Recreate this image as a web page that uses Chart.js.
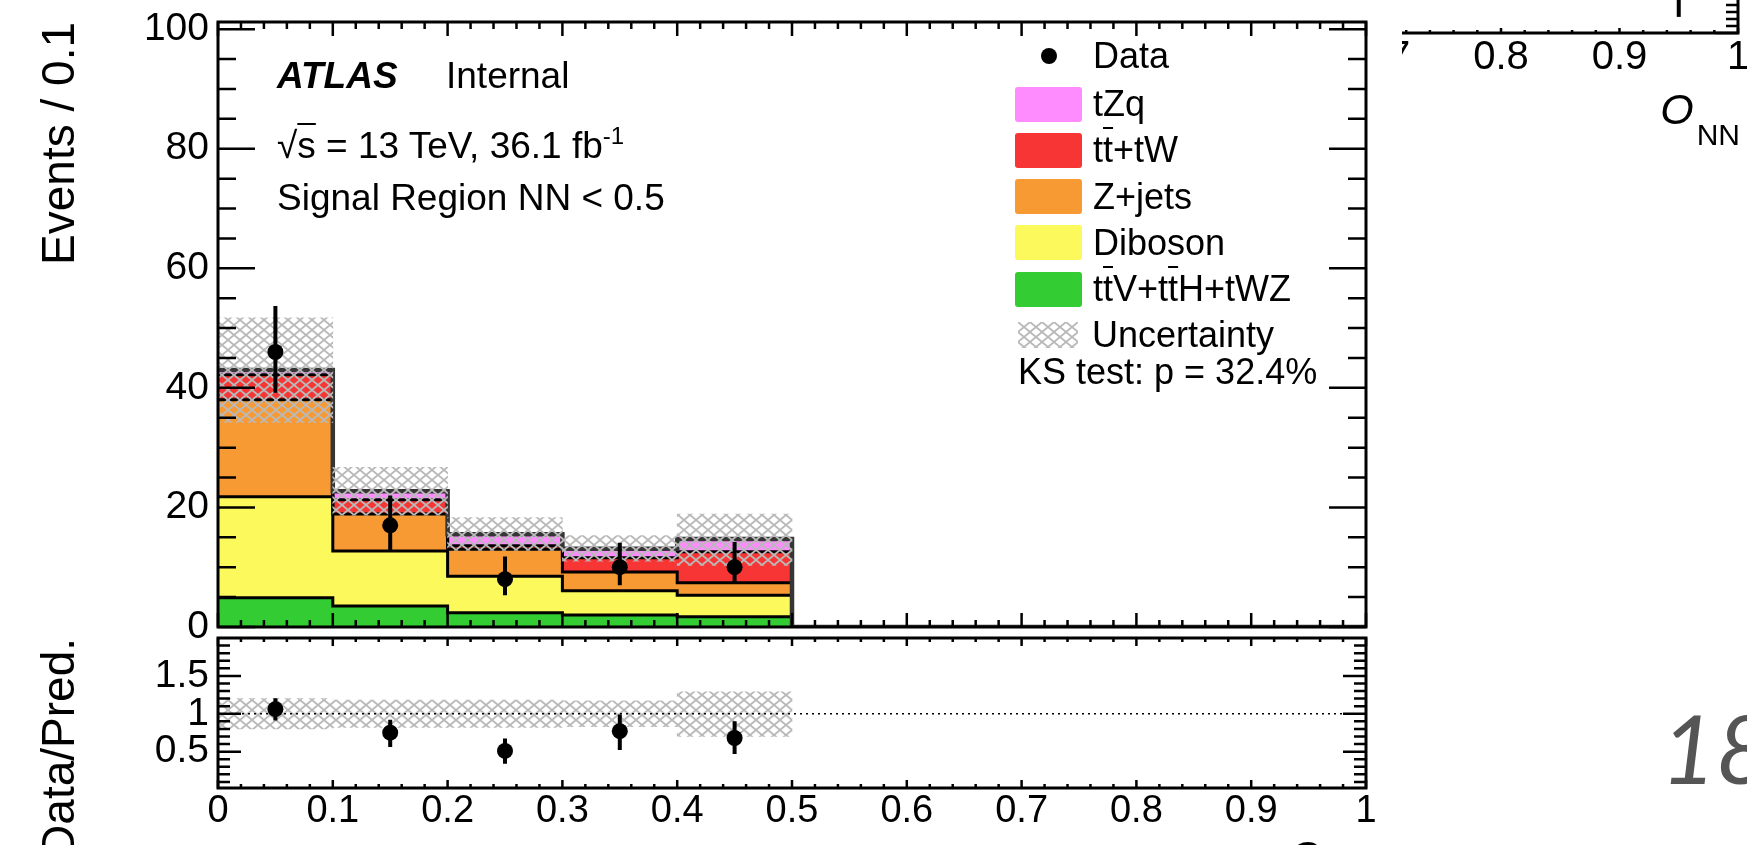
<!DOCTYPE html>
<html lang="en">
<head>
<meta charset="UTF-8" />
<title>Signal Region NN &lt; 0.5</title>
<script src="https://cdn.jsdelivr.net/npm/chart.js"></script>
<style>
  html, body { margin:0; padding:0; background:#fff; }
  body { width:1747px; height:845px; position:relative; overflow:hidden;
         font-family:"Liberation Sans", Arial, Helvetica, sans-serif; color:#000; }
  canvas { position:absolute; }
  #frag { left:1240px; top:-250px; z-index:1; }
  #main { left:0; top:0; z-index:2; background:#fff; }
  #ratio { left:0; top:630px; z-index:3; }
  .txt { position:absolute; white-space:nowrap; font-size:37px; line-height:37px; z-index:5; }
  .ob { text-decoration:overline; text-decoration-thickness:2px; }
  .leg { position:absolute; left:1015px; height:36px; display:flex; align-items:center; z-index:5;
         font-size:36px; line-height:36px; white-space:nowrap; }
  .leg .box { width:67px; height:35px; margin-right:11px; border-radius:3px; }
  .onn { position:absolute; white-space:nowrap; z-index:5; font-size:43px; line-height:43px; }
  .onn i { font-style:italic; }
  .onn span { font-size:30px; position:relative; top:21px; margin-left:3px; }
  #page { position:absolute; left:1661px; top:700px; font-family:Lato, "Liberation Sans", sans-serif;
          font-style:italic; font-weight:400; font-size:95px; line-height:95px; color:#555; z-index:5; }
</style>
</head>
<body>
<canvas id="frag" width="507" height="340"></canvas>
<canvas id="main" width="1402" height="640"></canvas>
<canvas id="ratio" width="1402" height="215"></canvas>

<div class="txt" style="left:277px;top:57px;font-weight:bold;font-style:italic">ATLAS</div>
<div class="txt" style="left:446px;top:57px">Internal</div>
<div class="txt" style="left:277px;top:117px">&radic;<span class="ob">s</span> = 13 TeV, 36.1 fb<sup style="font-size:24px;vertical-align:14px">-1</sup></div>
<div class="txt" style="left:277px;top:179px">Signal Region NN &lt; 0.5</div>
<div id="legend"></div>

<div class="onn" style="right:7px;top:88px"><i>O</i><span>NN</span></div>
<div class="onn" style="right:379px;top:835px"><i>O</i><span>NN</span></div>
<div id="page">18</div>

<script>
// bins of O_NN (only the first five are filled)
const binCentres = [0.05, 0.15, 0.25, 0.35, 0.45];
const binEdges = [0, 0.1, 0.2, 0.3, 0.4, 0.5, 1.0];

// stacked predictions, events / 0.1 (bottom to top of the stack)
const ttV     = [4.9, 3.5, 2.4, 2.0, 1.7];
const diboson = [16.9, 9.2, 6.1, 4.05, 3.6];
const zjets   = [16.2, 6.2, 4.5, 3.15, 2.1];
const ttW     = [4.2, 2.4, 0.6, 2.4, 5.2];
const tZq     = [0.8, 1.4, 1.9, 1.5, 2.1];

// total uncertainty band
const uncLo = [34.2, 18.7, 12.8, 11.0, 10.3];
const uncHi = [51.7, 26.7, 18.3, 15.3, 18.9];

// data with error bars
const dataY  = [46, 17, 8, 10, 10];
const dataLo = [39.2, 12.8, 5.3, 7.0, 7.3];
const dataHi = [53.7, 22.0, 11.8, 14.1, 14.2];

// ratio panel
const ratioY     = [1.06, 0.75, 0.51, 0.77, 0.68];
const ratioLo    = [0.91, 0.56, 0.34, 0.52, 0.47];
const ratioHi    = [1.205, 0.92, 0.675, 0.99, 0.90];
const ratioUncLo = [0.80, 0.82, 0.82, 0.83, 0.70];
const ratioUncHi = [1.20, 1.18, 1.18, 1.17, 1.29];

// tick labels
const xTicks = [0, 0.1, 0.2, 0.3, 0.4, 0.5, 0.6, 0.7, 0.8, 0.9, 1];
const xTickLabels = ['0', '0.1', '0.2', '0.3', '0.4', '0.5', '0.6', '0.7', '0.8', '0.9', '1'];
const yTicks = [0, 20, 40, 60, 80, 100];
const yTickLabels = ['0', '20', '40', '60', '80', '100'];
const ratioTicks = [0.5, 1, 1.5];
const ratioTickLabels = ['0.5', '1', '1.5'];

// corner of the neighbouring plot (cut off at the top right)
const fragTicks = [0.6, 0.7, 0.8, 0.9, 1];
const fragTickLabels = ['0.6', '0.7', '0.8', '0.9', '1'];
const fragX = [0.95], fragY = [6], fragLo = [2.3], fragHi = [9];

const seriesNames = ['t<span class="ob">t</span>V+t<span class="ob">t</span>H+tWZ', 'Diboson', 'Z+jets',
                     't<span class="ob">t</span>+tW', 'tZq'];
const seriesColours = ['#33cc33', '#fcf95d', '#f89a34', '#f83535', '#ff8cff'];
const seriesValues = [ttV, diboson, zjets, ttW, tZq];

const FONT = '"Liberation Sans", Arial, Helvetica, sans-serif';
Chart.defaults.font.family = FONT;
Chart.defaults.color = '#000';

function hatch(ctx) {
  const c = document.createElement('canvas');
  c.width = 12; c.height = 10;
  const g = c.getContext('2d');
  g.strokeStyle = '#b9b9b9'; g.lineWidth = 1.8;
  g.beginPath();
  g.moveTo(-1.2, -1); g.lineTo(13.2, 11);
  g.moveTo(-1.2, 11); g.lineTo(13.2, -1);
  g.stroke();
  return ctx.createPattern(c, 'repeat');
}

const major = (v, m) => Math.abs(v / m - Math.round(v / m)) < 1e-6;
const steps = (a, b, s) => Array.from({length: Math.round((b - a) / s) + 1}, (_, k) => a + k * s);

// ROOT-style frame with inward ticks on all four sides
function makeFrame(cfg) {
  return {
    id: 'rootFrame',
    afterDraw(chart) {
      const {ctx, chartArea: a, scales: {x, y}} = chart;
      ctx.save();
      ctx.strokeStyle = '#000';
      ctx.lineWidth = 2.5;
      ctx.beginPath();
      steps(cfg.x[0], cfg.x[1], cfg.x[3]).forEach(v => {
        const p = x.getPixelForValue(v), l = major(v, cfg.x[2]) ? cfg.xLen[0] : cfg.xLen[1];
        ctx.moveTo(p, a.bottom); ctx.lineTo(p, a.bottom - l);
        ctx.moveTo(p, a.top); ctx.lineTo(p, a.top + l);
      });
      steps(cfg.y[0], cfg.y[1], cfg.y[3]).forEach(v => {
        const p = y.getPixelForValue(v), l = major(v, cfg.y[2]) ? cfg.yLen[0] : cfg.yLen[1];
        ctx.moveTo(a.left, p); ctx.lineTo(a.left + l, p);
        ctx.moveTo(a.right, p); ctx.lineTo(a.right - l, p);
      });
      ctx.stroke();
      ctx.lineWidth = 3;
      ctx.strokeRect(a.left, a.top, a.right - a.left, a.bottom - a.top);
      ctx.restore();
    }
  };
}

function makeErrorBars(xs, lo, hi) {
  return {
    id: 'errorBars',
    afterDatasetsDraw(chart) {
      const {ctx, scales: {x, y}} = chart;
      ctx.save();
      ctx.strokeStyle = '#000';
      ctx.lineWidth = 4;
      ctx.beginPath();
      xs.forEach((xv, i) => {
        const p = x.getPixelForValue(xv);
        ctx.moveTo(p, y.getPixelForValue(lo[i]));
        ctx.lineTo(p, y.getPixelForValue(hi[i]));
      });
      ctx.stroke();
      ctx.restore();
    }
  };
}

function xScale(showLabels, height, min, max, ticks, labels, size) {
  return {
    type: 'linear', min: min, max: max, offset: false,
    afterBuildTicks: s => { s.ticks = ticks.map(v => ({value: v})); },
    ticks: {display: showLabels, autoSkip: false, maxRotation: 0, padding: 1,
            font: {size: size}, callback: (v, i) => labels[i]},
    grid: {display: false, drawTicks: false},
    border: {display: false},
    afterFit: s => { s.height = height; s.paddingLeft = 0; s.paddingRight = 0; }
  };
}

function yScale(min, max, ticks, labels, title) {
  return {
    type: 'linear', min: min, max: max,
    afterBuildTicks: s => { s.ticks = ticks.map(v => ({value: v})); },
    ticks: {font: {size: 39}, padding: 9, callback: (v, i) => labels[i]},
    grid: {display: false, drawTicks: false},
    border: {display: false},
    title: {display: true, text: title, align: 'end', font: {size: 46}, padding: {top: 34}},
    afterFit: s => { s.width = 218; s.paddingTop = 0; s.paddingBottom = 0; }
  };
}

const points = (xs, ys) => xs.map((x, i) => ({x: x, y: ys[i]}));
const common = {
  responsive: false, animation: false, events: [],
  plugins: {legend: {display: false}, tooltip: {enabled: false}, filler: {drawTime: 'beforeDatasetsDraw'}}
};

// ---- main panel ----
const mainCtx = document.getElementById('main').getContext('2d');
let running = binCentres.map(() => 0);
const stackSets = seriesValues.map((vals, k) => {
  running = running.map((c, i) => c + vals[i]);
  const pts = running.map((v, i) => ({x: binEdges[i], y: v}));
  pts.push({x: binEdges[5], y: 0}, {x: binEdges[6], y: 0});
  const top = k === seriesValues.length - 1;
  return {
    type: 'line', label: seriesNames[k].replace(/<[^>]+>/g, ''), data: pts, stepped: 'before',
    borderColor: top ? '#353535' : '#000', borderWidth: top ? 4.5 : 3,
    backgroundColor: seriesColours[k], fill: k === 0 ? 'origin' : '-1',
    pointRadius: 0, order: 6 - k
  };
});

new Chart(mainCtx, {
  type: 'line',
  data: {
    datasets: [
      {type: 'line', label: 'Data', data: points(binCentres, dataY), showLine: false,
       pointRadius: 8, pointBackgroundColor: '#000', pointBorderWidth: 0, order: 0},
      {type: 'bar', label: 'Uncertainty', data: binCentres.map((x, i) => ({x: x, y: [uncLo[i], uncHi[i]]})),
       backgroundColor: hatch(mainCtx), borderWidth: 0, barPercentage: 1, categoryPercentage: 1, order: 1},
      ...stackSets
    ]
  },
  options: {
    ...common,
    layout: {padding: {top: 22, right: 36, bottom: 3, left: 0}},
    scales: {
      x: xScale(false, 10, 0, 1, xTicks, xTickLabels, 38),
      y: yScale(0, 101.2, yTicks, yTickLabels, 'Events / 0.1')
    }
  },
  plugins: [makeErrorBars(binCentres, dataLo, dataHi),
            makeFrame({x: [0, 1, 0.1, 0.02], xLen: [14, 7], y: [0, 100, 20, 5], yLen: [37, 18]})]
});

// ---- ratio panel ----
const ratioCtx = document.getElementById('ratio').getContext('2d');
new Chart(ratioCtx, {
  type: 'line',
  data: {
    datasets: [
      {type: 'line', label: 'Data/Pred.', data: points(binCentres, ratioY), showLine: false,
       pointRadius: 8, pointBackgroundColor: '#000', pointBorderWidth: 0, order: 0},
      {type: 'line', label: 'unity', data: [{x: 0, y: 1}, {x: 1, y: 1}], borderColor: '#000',
       borderWidth: 1.6, borderDash: [2, 4], pointRadius: 0, fill: false, order: 1},
      {type: 'bar', label: 'Uncertainty', data: binCentres.map((x, i) => ({x: x, y: [ratioUncLo[i], ratioUncHi[i]]})),
       backgroundColor: hatch(ratioCtx), borderWidth: 0, barPercentage: 1, categoryPercentage: 1, order: 2}
    ]
  },
  options: {
    ...common,
    layout: {padding: {top: 5, right: 36, bottom: 0, left: 0}},
    scales: {
      x: xScale(true, 57, 0, 1, xTicks, xTickLabels, 38),
      y: yScale(0.02, 2.0, ratioTicks, ratioTickLabels, 'Data/Pred.')
    }
  },
  plugins: [makeErrorBars(binCentres, ratioLo, ratioHi),
            makeFrame({x: [0, 1, 0.1, 0.02], xLen: [8, 4], y: [0.1, 1.9, 0.5, 0.1], yLen: [23, 12]})]
});

// ---- neighbouring plot corner ----
const fragCtx = document.getElementById('frag').getContext('2d');
new Chart(fragCtx, {
  type: 'line',
  data: {
    datasets: [
      {type: 'line', label: 'Data', data: points(fragX, fragY), showLine: false,
       pointRadius: 8, pointBackgroundColor: '#000', pointBorderWidth: 0}
    ]
  },
  options: {
    ...common,
    layout: {padding: {top: 10, right: 9, bottom: 0, left: 24}},
    scales: {
      x: xScale(true, 57, 0.6, 1, fragTicks, fragTickLabels, 40),
      y: {type: 'linear', display: false, min: 0, max: 39}
    }
  },
  plugins: [makeErrorBars(fragX, fragLo, fragHi),
            makeFrame({x: [0.6, 1, 0.1, 0.02], xLen: [5, 3], y: [0, 39, 5, 1], yLen: [23, 12]})]
});

// ---- legend ----
const legend = document.getElementById('legend');
function legendRow(centre, html) {
  const row = document.createElement('div');
  row.className = 'leg';
  row.style.top = (centre - 18) + 'px';
  row.innerHTML = html;
  legend.appendChild(row);
  return row;
}
legendRow(56, '<div style="width:67px;margin-right:11px;display:flex;justify-content:center">' +
              '<div style="width:16px;height:16px;border-radius:8px;background:#000"></div></div>Data');
for (let k = seriesNames.length - 1, r = 0; k >= 0; k--, r++) {
  legendRow(104 + r * 46.3, '<div class="box" style="background:' + seriesColours[k] + '"></div>' + seriesNames[k]);
}
const uRow = legendRow(335, '<canvas width="60" height="26" style="position:static;margin:0 14px 0 3px"></canvas>Uncertainty');
const uc = uRow.querySelector('canvas').getContext('2d');
uc.fillStyle = hatch(uc);
uc.fillRect(0, 0, 60, 26);
legendRow(372, 'KS test: p = 32.4%').style.left = '1018px';
</script>
</body>
</html>
